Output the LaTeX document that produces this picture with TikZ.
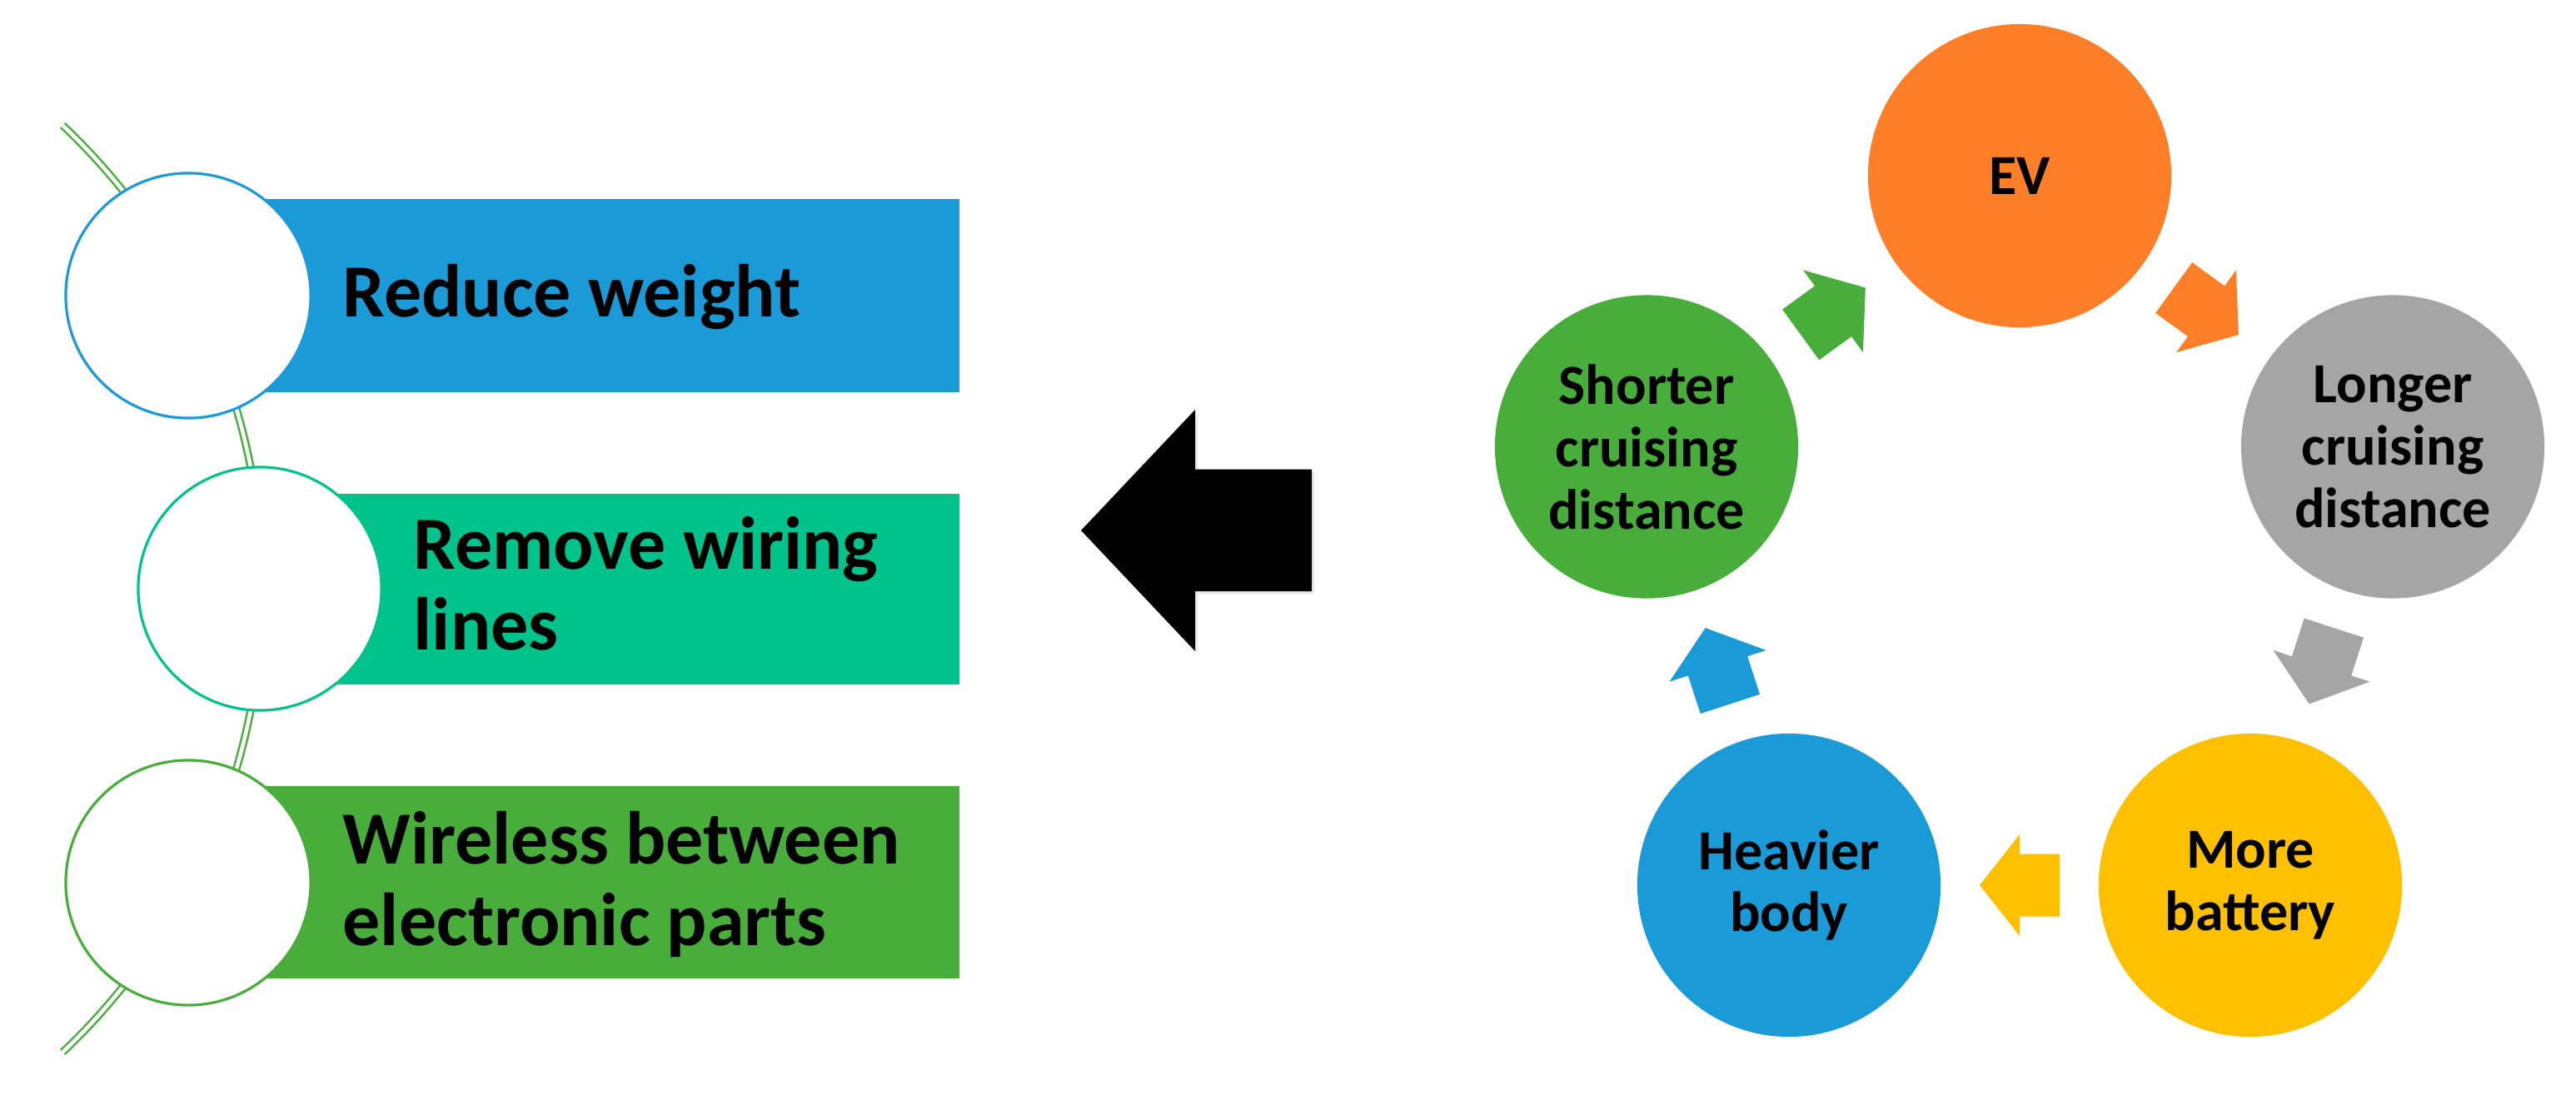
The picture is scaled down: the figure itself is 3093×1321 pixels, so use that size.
\documentclass[tikz,border=0pt]{standalone}
\usepackage{fontspec}
\setmainfont{Carlito}
\usetikzlibrary{calc,shadows}
\definecolor{cblue}{HTML}{1A9BD7}
\definecolor{cteal}{HTML}{00C38C}
\definecolor{cgreen}{HTML}{49AD3C}
\definecolor{corange}{HTML}{FE7F27}
\definecolor{cgray}{HTML}{A5A5A5}
\definecolor{cyellow}{HTML}{FFC000}
\newcommand\cycarrow[4]{\fill[#4, shift={($(#1)!0.5!(#2)$)}, rotate=#3]
  (-48,-37.5) -- (0,-37.5) -- (0,-61) -- (48,0) -- (0,61) -- (0,37.5) -- (-48,37.5) -- cycle;}
\begin{document}
\begin{tikzpicture}[x=0.01cm, y=-0.01cm,
  leftcirc/.style={circle, fill=white, draw, line width=0.9pt, minimum size=2.94cm, inner sep=0pt},
  bigtext/.style={font=\bfseries\fontsize{25.6pt}{27.6pt}\selectfont, inner sep=0pt, align=left, anchor=west},
  cyc/.style={circle, minimum size=3.64cm, inner sep=0pt, align=center, font=\bfseries\fontsize{19.35pt}{21.3pt}\selectfont},
  arcline/.style={cgreen, line width=0.7pt, double=white, double distance=1.3pt}
]
\useasboundingbox (0,0) rectangle (3093,1321);
\fill[white] (0,0) rectangle (3093,1321);

% left: curved list
\draw[arcline] (75.3,150.5) arc[start angle=-46.6, end angle=46.6, radius=766];
\fill[cblue] (226,239) rectangle (1152,471);
\fill[cteal] (312,593) rectangle (1152,822);
\fill[cgreen] (226,944) rectangle (1152,1175);
\node[leftcirc, draw=cblue] (c1) at (226,355) {};
\node[leftcirc, draw=cteal, minimum size=2.92cm] (c2) at (312,707) {};
\node[leftcirc, draw=cgreen] (c3) at (226,1060) {};
\node[bigtext, anchor=base west] (t1) at (411,380) {Reduce weight};
\node[bigtext] (t2) at (496,701) {Remove wiring\\lines};
\node[bigtext] (t3) at (411,1062) {Wireless between\\electronic parts};

% big black arrow
\path[fill=black, drop shadow={shadow xshift=1pt, shadow yshift=-1pt, opacity=0.15}]
  (1298,637) -- (1435,492) -- (1435,563.5) -- (1575,563.5) -- (1575,710)
  -- (1435,710) -- (1435,782) -- cycle;

% right: cycle
\node[cyc, fill=corange] (ev) at (2425,211) {EV};
\node[cyc, fill=cgray] (lon) at (2873,536.5) {Longer\\cruising\\distance};
\node[cyc, fill=cyellow] (more) at (2702,1063) {More\\battery};
\node[cyc, fill=cblue] (heavy) at (2148,1063) {Heavier\\body};
\node[cyc, fill=cgreen] (short) at (1977,536.5) {Shorter\\cruising\\distance};

\cycarrow{ev}{lon}{-36}{corange}
\cycarrow{lon}{more}{-108}{cgray}
\cycarrow{more}{heavy}{180}{cyellow}
\cycarrow{heavy}{short}{108}{cblue}
\cycarrow{short}{ev}{36}{cgreen}
\end{tikzpicture}
\end{document}
